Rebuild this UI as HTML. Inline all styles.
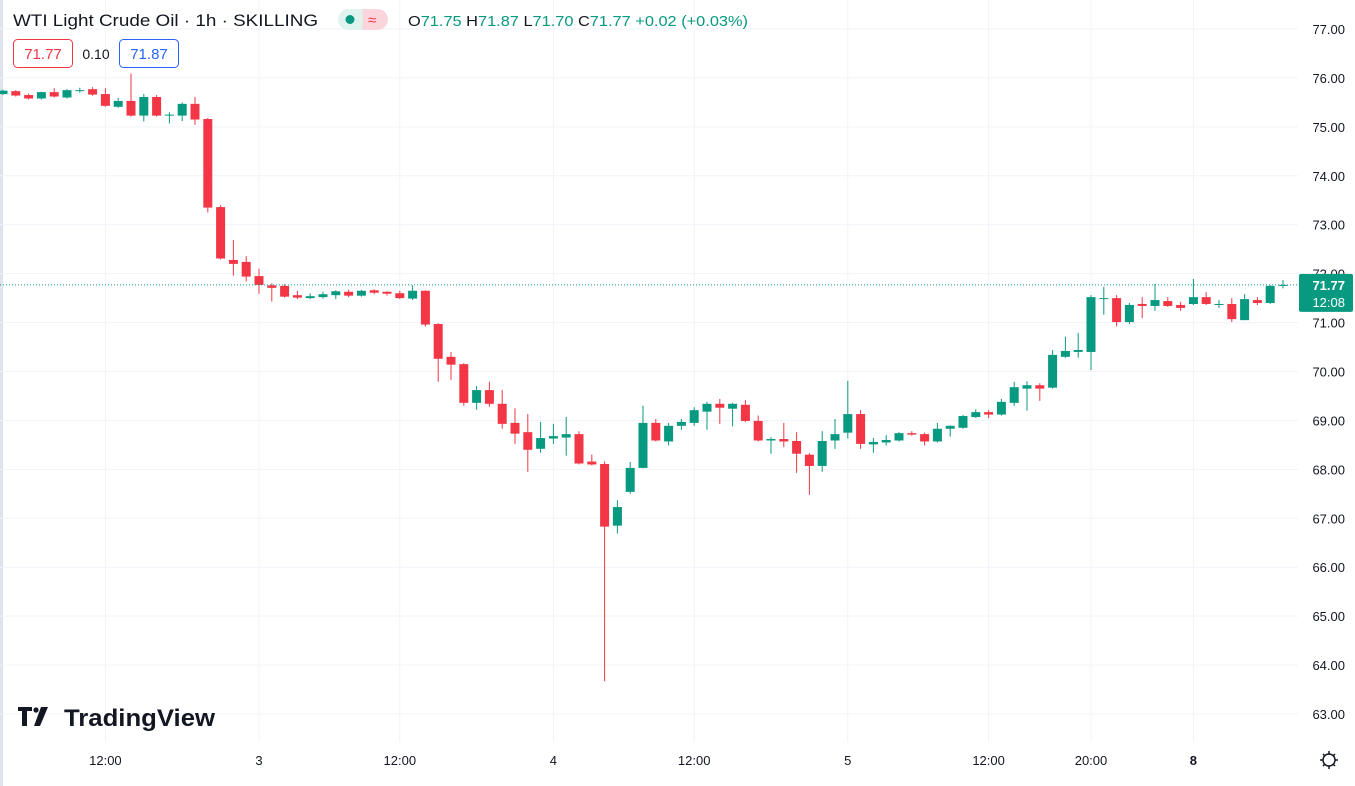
<!DOCTYPE html>
<html><head><meta charset="utf-8"><style>
html,body{margin:0;padding:0;background:#fff;}
body{width:1355px;height:786px;overflow:hidden;position:relative;font-family:"Liberation Sans",sans-serif;}
svg{position:absolute;left:0;top:0;}
</style></head><body>
<svg id="chart" width="1355" height="786">
<rect x="0" y="0" width="3" height="786" fill="#e0e3eb"/>
<g id="grid"></g><g id="candles"></g><g id="axes"></g>
<g>
<text x="13" y="26" font-size="17" fill="#131722" textLength="305" lengthAdjust="spacingAndGlyphs">WTI Light Crude Oil · 1h · SKILLING</text>
<g>
<path d="M348.5 9h14v21h-14a10.5 10.5 0 0 1 0-21z" fill="#e1f3ef"/>
<path d="M362.5 9h15a10.5 10.5 0 0 1 0 21h-15z" fill="#fbd5dc"/>
<circle cx="350" cy="19.5" r="4.5" fill="#089981"/>
<text x="368" y="25" font-size="15" fill="#f23645">≈</text>
</g>
<text x="408" y="26" font-size="15" fill="#131722" textLength="340" lengthAdjust="spacingAndGlyphs">O<tspan fill="#089981">71.75</tspan> H<tspan fill="#089981">71.87</tspan> L<tspan fill="#089981">71.70</tspan> C<tspan fill="#089981">71.77</tspan> <tspan fill="#089981">+0.02 (+0.03%)</tspan></text>
<rect x="13.5" y="39.5" width="59" height="28" rx="4" fill="#fff" stroke="#f23645"/>
<text x="43" y="59" font-size="15" fill="#f23645" text-anchor="middle">71.77</text>
<text x="96" y="59" font-size="14" fill="#131722" text-anchor="middle">0.10</text>
<rect x="119.5" y="39.5" width="59" height="28" rx="4" fill="#fff" stroke="#2962ff"/>
<text x="149" y="59" font-size="15" fill="#2962ff" text-anchor="middle">71.87</text>
</g>
<g>
<path d="M18 707h14v4h-5v15h-5v-15h-4z" fill="#131722"/>
<circle cx="36" cy="710" r="2.6" fill="#131722"/>
<path d="M41 707h7l-8 19h-6z" fill="#131722"/>
<text x="64" y="726" font-size="24" font-weight="bold" fill="#131722" textLength="151" lengthAdjust="spacingAndGlyphs">TradingView</text>
</g>
<g stroke="#131722" stroke-width="1.5" fill="none">
<circle cx="1329" cy="760" r="6"/>
<path d="M1329 751v3M1329 766v3M1320 760h3M1335 760h3M1323 754l2 2M1333 764l2 2M1335 754l-2 2M1325 764l-2 2"/>
</g>
</svg>
<script>
const opens=[75.67,75.73,75.65,75.58,75.71,75.60,75.74,75.77,75.67,75.41,75.53,75.23,75.61,75.24,75.23,75.47,75.16,73.36,72.28,72.24,71.95,71.76,71.75,71.56,71.50,71.52,71.56,71.63,71.55,71.66,71.63,71.60,71.49,71.65,70.97,70.30,70.15,69.36,69.62,69.34,68.95,68.76,68.42,68.63,68.65,68.72,68.16,68.11,66.85,67.54,68.03,68.95,68.57,68.89,68.95,69.18,69.34,69.24,69.32,68.99,68.59,68.62,68.58,68.30,68.07,68.59,68.75,69.13,68.51,68.55,68.59,68.74,68.72,68.57,68.83,68.85,69.07,69.17,69.12,69.36,69.65,69.72,69.67,70.30,70.40,70.40,71.50,71.50,71.01,71.38,71.34,71.44,71.36,71.38,71.52,71.38,71.38,71.05,71.46,71.40,71.75];
const highs=[75.76,75.75,75.68,75.72,75.79,75.77,75.80,75.81,75.79,75.59,76.09,75.67,75.65,75.30,75.50,75.61,75.18,73.40,72.69,72.36,72.10,71.80,71.78,71.65,71.60,71.63,71.66,71.67,71.67,71.68,71.64,71.65,71.76,71.66,70.99,70.40,70.17,69.70,69.79,69.62,69.25,69.13,68.97,68.93,69.07,68.78,68.30,68.16,67.37,68.15,69.30,69.03,68.95,69.03,69.27,69.38,69.44,69.36,69.42,69.10,68.66,68.95,68.76,68.33,68.78,69.03,69.81,69.21,68.64,68.70,68.76,68.78,68.75,68.95,68.90,69.11,69.23,69.21,69.44,69.79,69.80,69.76,70.44,70.71,70.79,71.56,71.73,71.56,71.40,71.52,71.79,71.52,71.42,71.89,71.62,71.46,71.50,71.58,71.52,71.77,71.87];
const lows=[75.65,75.62,75.56,75.56,75.60,75.58,75.70,75.64,75.41,75.39,75.21,75.11,75.21,75.07,75.12,75.04,73.25,72.29,71.96,71.84,71.59,71.43,71.51,71.48,71.48,71.49,71.48,71.52,71.53,71.58,71.55,71.48,71.46,70.92,69.79,69.83,69.30,69.22,69.28,68.83,68.52,67.95,68.34,68.52,68.28,68.10,68.08,63.67,66.69,67.50,68.02,68.57,68.49,68.81,68.89,68.81,68.93,68.88,68.97,68.57,68.32,68.45,67.93,67.48,67.95,68.42,68.63,68.42,68.34,68.49,68.57,68.69,68.49,68.55,68.67,68.83,69.05,69.05,69.10,69.30,69.20,69.40,69.65,70.28,70.28,70.03,71.16,70.92,70.97,71.09,71.24,71.32,71.24,71.36,71.36,71.30,71.01,71.05,71.36,71.38,71.70];
const closes=[75.74,75.64,75.58,75.71,75.62,75.75,75.75,75.66,75.43,75.53,75.23,75.61,75.23,75.25,75.47,75.15,73.35,72.31,72.20,71.94,71.77,71.71,71.53,71.51,71.54,71.58,71.64,71.55,71.65,71.61,71.59,71.50,71.65,70.96,70.26,70.14,69.36,69.62,69.34,68.93,68.73,68.40,68.64,68.68,68.72,68.12,68.10,66.83,67.23,68.03,68.95,68.59,68.89,68.97,69.21,69.34,69.26,69.34,68.99,68.59,68.62,68.57,68.32,68.07,68.58,68.72,69.13,68.52,68.56,68.60,68.74,68.71,68.57,68.83,68.89,69.09,69.17,69.12,69.38,69.68,69.72,69.65,70.34,70.42,70.44,71.52,71.50,71.01,71.36,71.34,71.46,71.34,71.30,71.52,71.38,71.38,71.07,71.48,71.40,71.75,71.77];
const priceTicks=[77,76,75,74,73,72,71,70,69,68,67,66,65,64,63];
const timeLabels=["12:00","3","12:00","4","12:00","5","12:00","20:00","8"];
const timeIdx=[8,20,31,43,54,66,77,85,93];
const lastPrice=71.77;
const NS="http://www.w3.org/2000/svg";
function yS(p){return 29+(77-p)*48.93;}
function xS(i){return 3+12.8*i;}
function mk(tag,attrs,parent){const e=document.createElementNS(NS,tag);for(const k in attrs)e.setAttribute(k,attrs[k]);parent.appendChild(e);return e;}
const grid=document.getElementById('grid'),cg=document.getElementById('candles'),ax=document.getElementById('axes');
priceTicks.forEach(p=>{
  const l=mk('line',{x1:0,x2:1298,y1:yS(p),y2:yS(p),stroke:'#f0f3fa','stroke-width':1},grid);
  
  
  const t=mk('text',{x:1345,y:yS(p)+5,'font-size':13,fill:'#131722','text-anchor':'end'},ax);
  t.textContent=p.toFixed(2);
  
  
});
timeIdx.forEach((k,j)=>{
  const l=mk('line',{x1:xS(k),x2:xS(k),y1:0,y2:742,stroke:'#f0f3fa','stroke-width':1},grid);
  
  
  const t=mk('text',{x:xS(k),y:765,'font-size':13,fill:'#131722','text-anchor':'middle','font-weight':timeLabels[j]==='8'?'bold':'normal'},ax);
  t.textContent=timeLabels[j];
  
  
});
opens.forEach((o,i)=>{
  const c=closes[i],up=c>=o,col=up?'#089981':'#f23645',x=xS(i);
  const g=mk('g',{},cg);
  
  
  mk('line',{x1:x,x2:x,y1:yS(highs[i]),y2:yS(lows[i]),stroke:col,'stroke-width':1},g);
  const top=yS(Math.max(o,c)),h=Math.max(1,Math.abs(yS(o)-yS(c)));
  mk('rect',{x:x-4.5,y:top,width:9,height:h,fill:col},g);
});
const pl=mk('line',{x1:0,x2:1298,y1:yS(lastPrice),y2:yS(lastPrice),stroke:'#089981','stroke-width':1,'stroke-dasharray':'1 2'},cg);


const box=mk('rect',{x:1299,y:yS(lastPrice)-11,width:54,height:38,rx:2,fill:'#089981'},ax);


const t1=mk('text',{x:1345,y:yS(lastPrice)+5,'font-size':13,'font-weight':'bold',fill:'#fff','text-anchor':'end'},ax);
t1.textContent=lastPrice.toFixed(2);


const t2=mk('text',{x:1345,y:yS(lastPrice)+22,'font-size':13,fill:'#fff','text-anchor':'end'},ax);
t2.textContent='12:08';


</script>
</body></html>
